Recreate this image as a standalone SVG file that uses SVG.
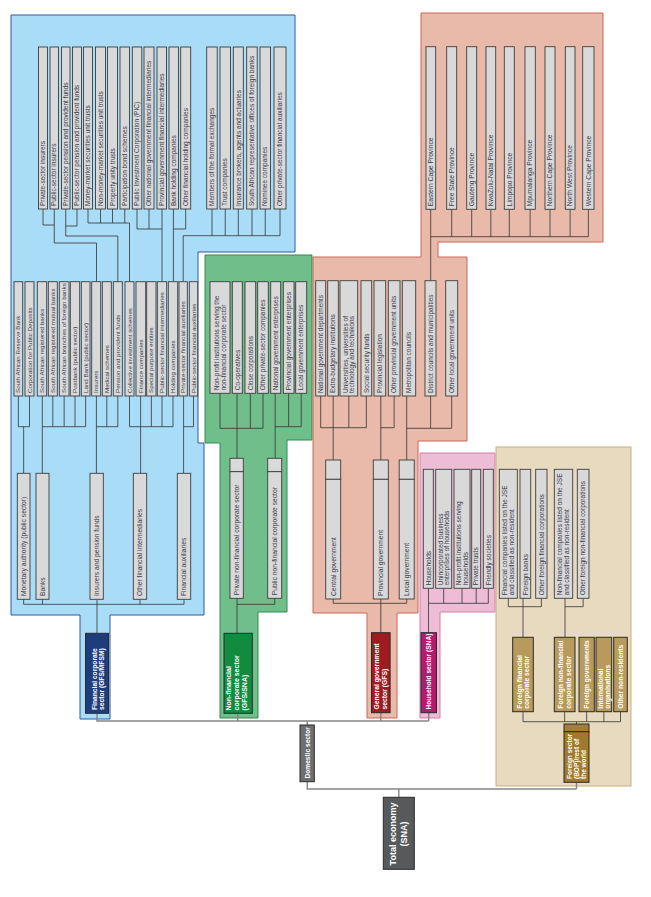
<svg xmlns="http://www.w3.org/2000/svg" width="651" height="897" viewBox="0 0 651 897">
<style>
.r1{fill:#a9dcf6;stroke:#34579a;stroke-width:1}
.r2{fill:#70be89;stroke:#2e8c52;stroke-width:1}
.r3{fill:#e9baa9;stroke:#c9665b;stroke-width:1}
.r4{fill:#edbdd6;stroke:#d77cab;stroke-width:1}
.r5{fill:#e7dabf;stroke:#c8b07c;stroke-width:1}
.lf{fill:#d9d9da;stroke:#3d3d3d;stroke-width:0.9}
.t{font-family:"Liberation Sans",Arial,sans-serif;font-size:6.5px;fill:#3b3b4a}
.s{font-size:6.2px}
.m{font-size:6.7px}
.w{font-family:"Liberation Sans",Arial,sans-serif;font-weight:bold;fill:#ffffff;font-size:6.7px}
.c{fill:none;stroke:#333;stroke-width:0.8}
.g{fill:none;stroke:#858585;stroke-width:1.4}
.dk{stroke:#2a2a2a;stroke-width:1}
</style>
<rect width="651" height="897" fill="#ffffff"/>
<g id="regions">
<path class="r1" d="M11,15H295V252H198V443H204V615H110V719H80V615H11Z"/>
<path class="r2" d="M205,255H312V440H287V612H258V718H220V443H205Z"/>
<path class="r3" d="M421,13H603V242H438V257H467V441H418V613H397V718H367V613H313V257H421Z"/>
<path class="r4" d="M420,453H495V612H440V718H420Z"/>
<rect class="r5" x="496" y="447" width="135" height="339"/>
</g>
<g id="connectors">
<path class="c" d="M43,209V225H54.25M54.25,209V243H96.5V281.7M77,209V226H65.75M65.75,209V236H117.8V281.7M88,209V223H129.5V281.7M100.5,209V223M112.5,209V223M124.75,209V223M137,209V229H162M149,209V229M162,209V281.7M173.4,209V281.7M185.7,209V229H173.4M183.2,235.7V281.7M183.2,235.7H280M212,209V235.7M225.25,209V235.7M238.3,209V235.7M252,209V235.7M265.25,209V235.7M280,209V235.7"/>
<path class="c" d="M18.35,396V426.7H29.5V396M23.65,426.7V473.3M42.3,396V473.3M42.3,426.7H85.65M52.8,396V426.7M64.15,396V426.7M75,396V426.7M85.65,396V426.7M96.4,396V473.3M96.4,426.7H117.8M106.8,396V426.7M117.8,396V426.7M129.5,396V426.7H173M140.6,396V473.3M151.35,396V426.7M162,396V426.7M173,396V426.7M183.6,396V473.3M183.6,426.7H193.5V396"/>
<path class="c" d="M23.65,599.3V604.3H184V599.3M42.5,599.3V604.3M97,599.3V633.3M140,599.3V604.3"/>
<path class="c" d="M220,393.3V428.3H263M237,393.3V458.3M250.35,393.3V428.3M263,393.3V428.3M275.2,393.3V458.3M275.2,426.7H301.2M288.65,393.3V426.7M301.2,393.3V426.7M237,598.3V633.3M237,604.3H274.7V598.3"/>
<path class="c" d="M430.7,209.3V280.7M430.7,236.7H588.35M451.7,209.3V236.7M471.7,209.3V236.7M490.85,209.3V236.7M509.3,209.3V236.7M530.15,209.3V236.7M550,209.3V236.7M570.15,209.3V236.7M588.35,209.3V236.7"/>
<path class="c" d="M320.7,396V427.7H366.35M333.2,396V460M348.85,396V427.7M366.35,396V427.7M380.8,396V460M380.8,427.7H394.15V396M406.7,396V460M406.7,428.3H451.7M430.6,396V428.3M451.7,396V428.3M333.2,599V603.3H406.7V599M380.8,599V632.7"/>
<path class="c" d="M428.5,588.3V632.7M428.5,603.3H488.3M443.7,588.3V603.3M462,588.3V603.3M476.2,588.3V603.3M488.3,588.3V603.3"/>
<path class="c" d="M508.3,598.3V606.7H541.35V598.3M523,598.3V637.3M565,598.3V637.3M565,606.7H583.15V598.3M523,711.7V721.7H620.5V711.7M564.65,711.7V721.7M586.65,711.7V721.7M603.85,711.7V721.7M576.5,721.7V724"/>
<path class="g" d="M97,713.3V721H428.7M237.7,713.3V721M380.8,712.7V721M428.7,712.7V721M307.3,721V725M307.3,781.7V789H576.5M576.5,782.3V789M398.8,789V797.3"/>
</g>
<g id="fin-leaves">
<g id="b1"><rect class="lf" x="38.5" y="47" width="9" height="162"/><text class="t" transform="translate(45.2,206) rotate(-90)">Private-sector insurers</text></g>
<g id="b2"><rect class="lf" x="50" y="47" width="8.5" height="162"/><text class="t" transform="translate(56.4,206) rotate(-90)">Public-sector insurers</text></g>
<g id="b3"><rect class="lf" x="61.5" y="47" width="8.5" height="162"/><text class="t" transform="translate(67.9,206) rotate(-90)">Private-sector pension and provident funds</text></g>
<g id="b4"><rect class="lf" x="72.5" y="47" width="9" height="162"/><text class="t" transform="translate(79.2,206) rotate(-90)">Public-sector pension and provident funds</text></g>
<g id="b5"><rect class="lf" x="83.5" y="47" width="9" height="162"/><text class="t" transform="translate(90.2,206) rotate(-90)">Money-market securities unit trusts</text></g>
<g id="b6"><rect class="lf" x="95.5" y="47" width="10" height="162"/><text class="t" transform="translate(102.7,206) rotate(-90)">Non-money-market securities unit trusts</text></g>
<g id="b7"><rect class="lf" x="107.5" y="47" width="10" height="162"/><text class="t" transform="translate(114.7,206) rotate(-90)">Property unity trusts</text></g>
<g id="b8"><rect class="lf" x="120" y="47" width="9.5" height="162"/><text class="t" transform="translate(126.9,206) rotate(-90)">Participation bond schemes</text></g>
<g id="b9"><rect class="lf" x="132.3" y="47" width="9.5" height="162"/><text class="t" transform="translate(139.2,206) rotate(-90)">Public Investment Corporation (PIC)</text></g>
<g id="b10"><rect class="lf" x="144" y="47" width="10" height="162"/><text class="t" transform="translate(151.2,206) rotate(-90)">Other national government financial intermediaries</text></g>
<g id="b11"><rect class="lf" x="157" y="47" width="9.5" height="162"/><text class="t" transform="translate(163.9,206) rotate(-90)">Provincial government financial intermediaries</text></g>
<g id="b12"><rect class="lf" x="169" y="47" width="9.5" height="162"/><text class="t" transform="translate(175.9,206) rotate(-90)">Bank holding companies</text></g>
<g id="b13"><rect class="lf" x="180.7" y="47" width="10" height="162"/><text class="t" transform="translate(187.9,206) rotate(-90)">Other financial holding companies</text></g>
<g id="b14"><rect class="lf" x="206.7" y="47" width="10.5" height="162"/><text class="t" transform="translate(214.1,206) rotate(-90)">Members of the formal exchanges</text></g>
<g id="b15"><rect class="lf" x="220" y="47" width="10.5" height="162"/><text class="t" transform="translate(227.4,206) rotate(-90)">Trust companies</text></g>
<g id="b16"><rect class="lf" x="233.3" y="47" width="10" height="162"/><text class="t" transform="translate(240.5,206) rotate(-90)">Insurance brokers, agents and actuaries</text></g>
<g id="b17"><rect class="lf" x="246.7" y="47" width="10.5" height="162"/><text class="t" transform="translate(254.1,206) rotate(-90)">South African representative offices of foreign banks</text></g>
<g id="b18"><rect class="lf" x="260" y="47" width="10.5" height="162"/><text class="t" transform="translate(267.4,206) rotate(-90)">Nominee companies</text></g>
<g id="b19"><rect class="lf" x="274" y="47" width="12" height="162"/><text class="t" transform="translate(282.2,206) rotate(-90)">Other private-sector financial auxiliaries</text></g>
</g>
<g id="fin-mid">
<g id="m1"><rect class="lf" x="14" y="281.7" width="8.7" height="114.3"/><text class="t s" transform="translate(20.4,393) rotate(-90)">South African Reserve Bank</text></g>
<g id="m2"><rect class="lf" x="25" y="281.7" width="9" height="114.3"/><text class="t s" transform="translate(31.6,393) rotate(-90)">Corporation for Public Deposits</text></g>
<g id="m3"><rect class="lf" x="37.3" y="281.7" width="9.4" height="114.3"/><text class="t s" transform="translate(44.1,393) rotate(-90)">South African registered banks</text></g>
<g id="m4"><rect class="lf" x="48.3" y="281.7" width="9" height="114.3"/><text class="t s" transform="translate(54.9,393) rotate(-90)">South African registered mutual banks</text></g>
<g id="m5"><rect class="lf" x="59.3" y="281.7" width="9.7" height="114.3"/><text class="t s" transform="translate(66.2,393) rotate(-90)">South African branches of foreign banks</text></g>
<g id="m6"><rect class="lf" x="70.3" y="281.7" width="9.4" height="114.3"/><text class="t s" transform="translate(77.1,393) rotate(-90)">Postbank (public sector)</text></g>
<g id="m7"><rect class="lf" x="81.3" y="281.7" width="8.7" height="114.3"/><text class="t s" transform="translate(87.7,393) rotate(-90)">Land Bank (public sector)</text></g>
<g id="m8"><rect class="lf" x="91.7" y="281.7" width="9" height="114.3"/><text class="t s" transform="translate(98.3,393) rotate(-90)">Insurers</text></g>
<g id="m9"><rect class="lf" x="102.3" y="281.7" width="9" height="114.3"/><text class="t s" transform="translate(108.9,393) rotate(-90)">Medical schemes</text></g>
<g id="m10"><rect class="lf" x="113.3" y="281.7" width="9" height="114.3"/><text class="t s" transform="translate(119.9,393) rotate(-90)">Pension and provident funds</text></g>
<g id="m11"><rect class="lf" x="125" y="281.7" width="9" height="114.3"/><text class="t s" transform="translate(131.6,393) rotate(-90)">Collective investment schemes</text></g>
<g id="m12"><rect class="lf" x="136" y="281.7" width="9.7" height="114.3"/><text class="t s" transform="translate(142.9,393) rotate(-90)">Finance companies</text></g>
<g id="m13"><rect class="lf" x="146.7" y="281.7" width="9.3" height="114.3"/><text class="t s" transform="translate(153.4,393) rotate(-90)">Special purpose entities</text></g>
<g id="m14"><rect class="lf" x="157.3" y="281.7" width="9.4" height="114.3"/><text class="t s" transform="translate(164.1,393) rotate(-90)">Public-sector financial intermediaries</text></g>
<g id="m15"><rect class="lf" x="168.3" y="281.7" width="9.4" height="114.3"/><text class="t s" transform="translate(175.1,393) rotate(-90)">Holding companies</text></g>
<g id="m16"><rect class="lf" x="179" y="281.7" width="8.3" height="114.3"/><text class="t s" transform="translate(185.2,393) rotate(-90)">Private-sector financial auxiliaries</text></g>
<g id="m17"><rect class="lf" x="189.3" y="281.7" width="8.4" height="114.3"/><text class="t s" transform="translate(195.6,393) rotate(-90)">Public-sector financial auxiliaries</text></g>
</g>
<g id="fin-sub">
<g id="f1"><rect class="lf" x="17.3" y="473.3" width="12.7" height="126"/><text class="t m" transform="translate(25.9,596) rotate(-90)">Monetary authority (public sector)</text></g>
<g id="f2"><rect class="lf" x="36" y="473.3" width="13" height="126"/><text class="t m" transform="translate(44.8,596) rotate(-90)">Banks</text></g>
<g id="f3"><rect class="lf" x="90" y="473.3" width="13.3" height="126"/><text class="t m" transform="translate(98.9,596) rotate(-90)">Insurers and pension funds</text></g>
<g id="f4"><rect class="lf" x="133.3" y="473.3" width="13.4" height="126"/><text class="t m" transform="translate(142.3,596) rotate(-90)">Other financial intermediaries</text></g>
<g id="f5"><rect class="lf" x="177.3" y="473.3" width="13.4" height="126"/><text class="t m" transform="translate(186.3,596) rotate(-90)">Financial auxiliaries</text></g>
</g>
<g id="fin-sector"><rect x="85.5" y="633.3" width="23" height="80" fill="#1f3d7c" class="dk"/><text class="w" transform="translate(96.5,710) rotate(-90)">Financial corporate<tspan x="0" dy="7">sector (GFS/MFSM)</tspan></text></g>
<g id="nonfin-leaves">
<g id="g1"><rect class="lf" x="210" y="281.7" width="20" height="111.6"/><text class="t" transform="translate(218.9,390.3) rotate(-90)">Non-profit institutions serving the<tspan x="0" dy="6.8">non-financial corporate sector</tspan></text></g>
<g id="g2"><rect class="lf" x="232.3" y="281.7" width="10" height="111.6"/><text class="t" transform="translate(239.5,390.3) rotate(-90)">Co-operatives</text></g>
<g id="g3"><rect class="lf" x="245" y="281.7" width="10.7" height="111.6"/><text class="t" transform="translate(252.5,390.3) rotate(-90)">Close corporations</text></g>
<g id="g4"><rect class="lf" x="257.7" y="281.7" width="10.6" height="111.6"/><text class="t" transform="translate(265.2,390.3) rotate(-90)">Other private-sector companies</text></g>
<g id="g5"><rect class="lf" x="270.7" y="281.7" width="10" height="111.6"/><text class="t" transform="translate(277.9,390.3) rotate(-90)">National government enterprises</text></g>
<g id="g6"><rect class="lf" x="283.3" y="281.7" width="10.7" height="111.6"/><text class="t" transform="translate(290.8,390.3) rotate(-90)">Provincial government enterprises</text></g>
<g id="g7"><rect class="lf" x="295.7" y="281.7" width="11" height="111.6"/><text class="t" transform="translate(303.4,390.3) rotate(-90)">Local government enterprises</text></g>
</g>
<g id="nonfin-sub">
<g id="gm1"><rect class="lf" x="230" y="458.3" width="13.3" height="13.4"/><rect class="lf" x="230" y="471.7" width="13.3" height="126.6"/><text class="t m" transform="translate(239,595.3) rotate(-90)">Private non-financial corporate sector</text></g>
<g id="gm2"><rect class="lf" x="267.7" y="458.3" width="14" height="13.4"/><rect class="lf" x="267.7" y="471.7" width="14" height="126.6"/><text class="t m" transform="translate(277,595.3) rotate(-90)">Public non-financial corporate sector</text></g>
</g>
<g id="nonfin-sector"><rect x="224" y="633.3" width="28.3" height="80" fill="#118b3f" class="dk"/><text class="w" style="font-size:7px" transform="translate(231,710.5) rotate(-90)">Non-financial<tspan x="0" dy="8">corporate sector</tspan><tspan x="0" dy="8">(GFS/SNA)</tspan></text></g>
<g id="prov-leaves">
<g id="o1"><rect class="lf" x="426" y="46.7" width="9.7" height="162.6"/><text class="t m" transform="translate(433,206.3) rotate(-90)">Eastern Cape Province</text></g>
<g id="o2"><rect class="lf" x="446.7" y="46.7" width="10" height="162.6"/><text class="t m" transform="translate(453.9,206.3) rotate(-90)">Free State Province</text></g>
<g id="o3"><rect class="lf" x="466.7" y="46.7" width="10" height="162.6"/><text class="t m" transform="translate(473.9,206.3) rotate(-90)">Gauteng Province</text></g>
<g id="o4"><rect class="lf" x="486" y="46.7" width="9.7" height="162.6"/><text class="t m" transform="translate(493,206.3) rotate(-90)">KwaZulu-Natal Province</text></g>
<g id="o5"><rect class="lf" x="504.3" y="46.7" width="10" height="162.6"/><text class="t m" transform="translate(511.5,206.3) rotate(-90)">Limpopo Province</text></g>
<g id="o6"><rect class="lf" x="525" y="46.7" width="10.3" height="162.6"/><text class="t m" transform="translate(532.3,206.3) rotate(-90)">Mpumalanga Province</text></g>
<g id="o7"><rect class="lf" x="545" y="46.7" width="10" height="162.6"/><text class="t m" transform="translate(552.2,206.3) rotate(-90)">Northern Cape Province</text></g>
<g id="o8"><rect class="lf" x="565.3" y="46.7" width="9.7" height="162.6"/><text class="t m" transform="translate(572.3,206.3) rotate(-90)">North West Province</text></g>
<g id="o9"><rect class="lf" x="582.7" y="46.7" width="11.3" height="162.6"/><text class="t m" transform="translate(590.5,206.3) rotate(-90)">Western Cape Province</text></g>
</g>
<g id="gov-leaves">
<g id="om1"><rect class="lf" x="315.7" y="280.7" width="10" height="115.3"/><text class="t" transform="translate(322.9,393) rotate(-90)">National government departments</text></g>
<g id="om2"><rect class="lf" x="327.7" y="280.7" width="10.6" height="115.3"/><text class="t" transform="translate(335.2,393) rotate(-90)">Extra-budgetary institutions</text></g>
<g id="om3"><rect class="lf" x="340" y="280.7" width="17.7" height="115.3"/><text class="t" transform="translate(347.7,393) rotate(-90)">Universities, universities of<tspan x="0" dy="6.8">technology and technikons</tspan></text></g>
<g id="om4"><rect class="lf" x="361" y="280.7" width="10.7" height="115.3"/><text class="t" transform="translate(368.5,393) rotate(-90)">Social security funds</text></g>
<g id="om5"><rect class="lf" x="374" y="280.7" width="11.7" height="115.3"/><text class="t" transform="translate(382,393) rotate(-90)">Provincial legislation</text></g>
<g id="om6"><rect class="lf" x="388.3" y="280.7" width="11.7" height="115.3"/><text class="t" transform="translate(396.3,393) rotate(-90)">Other provincial government units</text></g>
<g id="om7"><rect class="lf" x="402.3" y="280.7" width="13.4" height="115.3"/><text class="t" transform="translate(411.2,393) rotate(-90)">Metropolitan councils</text></g>
<g id="om8"><rect class="lf" x="425" y="280.7" width="11" height="115.3"/><text class="t" transform="translate(432.7,393) rotate(-90)">District councils and municipalities</text></g>
<g id="om9"><rect class="lf" x="445.7" y="280.7" width="12" height="115.3"/><text class="t" transform="translate(453.9,393) rotate(-90)">Other local government units</text></g>
</g>
<g id="gov-sub">
<g id="oc1"><rect class="lf" x="325.7" y="460" width="15" height="19.3"/><rect class="lf" x="325.7" y="479.3" width="15" height="119.7"/><text class="t m" transform="translate(335.5,596) rotate(-90)">Central government</text></g>
<g id="oc2"><rect class="lf" x="373.3" y="460" width="15" height="19.3"/><rect class="lf" x="373.3" y="479.3" width="15" height="119.7"/><text class="t m" transform="translate(383.1,596) rotate(-90)">Provincial government</text></g>
<g id="oc3"><rect class="lf" x="399.2" y="460" width="15" height="19.3"/><rect class="lf" x="399.2" y="479.3" width="15" height="119.7"/><text class="t m" transform="translate(409,596) rotate(-90)">Local government</text></g>
</g>
<g id="gov-sector"><rect x="371.5" y="632.7" width="18.6" height="80" fill="#9d1c22" class="dk"/><text class="w" style="font-size:6.8px" transform="translate(379,709.5) rotate(-90)">General government<tspan x="0" dy="7.6">sector (GFS)</tspan></text></g>
<g id="hh-leaves">
<g id="p1"><rect class="lf" x="423.3" y="469.3" width="10" height="119"/><text class="t" transform="translate(430.5,585.3) rotate(-90)">Households</text></g>
<g id="p2"><rect class="lf" x="435.7" y="469.3" width="16" height="119"/><text class="t" transform="translate(442.6,585.3) rotate(-90)">Unincorporated business<tspan x="0" dy="6.8">enterprises of households</tspan></text></g>
<g id="p3"><rect class="lf" x="454" y="469.3" width="16" height="119"/><text class="t" transform="translate(460.9,585.3) rotate(-90)">Non-profit institutions serving<tspan x="0" dy="6.8">households</tspan></text></g>
<g id="p4"><rect class="lf" x="471.7" y="469.3" width="9" height="119"/><text class="t" transform="translate(478.4,585.3) rotate(-90)">Private trusts</text></g>
<g id="p5"><rect class="lf" x="483.3" y="469.3" width="10" height="119"/><text class="t" transform="translate(490.5,585.3) rotate(-90)">Friendly societies</text></g>
</g>
<g id="hh-sector"><rect x="421" y="632.7" width="15.5" height="80" fill="#b51a6f" class="dk"/><text class="w" style="font-size:6.6px" transform="translate(431,709.5) rotate(-90)">Household sector (SNA)</text></g>
<g id="row-leaves">
<g id="t1"><rect class="lf" x="499.3" y="469.3" width="18" height="129"/><text class="t" transform="translate(507.2,595.3) rotate(-90)">Financial companies listed on the JSE<tspan x="0" dy="6.8">and classified as non-resident</tspan></text></g>
<g id="t2"><rect class="lf" x="520" y="469.3" width="10.7" height="129"/><text class="t" transform="translate(527.5,595.3) rotate(-90)">Foreign banks</text></g>
<g id="t3"><rect class="lf" x="535.7" y="469.3" width="11.3" height="129"/><text class="t" transform="translate(543.5,595.3) rotate(-90)">Other foreign financial corporations</text></g>
<g id="t4"><rect class="lf" x="554.3" y="469.3" width="18.4" height="129"/><text class="t" transform="translate(562.4,595.3) rotate(-90)">Non-financial companies listed on the JSE<tspan x="0" dy="6.8">and classified as non-resident</tspan></text></g>
<g id="t5"><rect class="lf" x="577.3" y="469.3" width="11.7" height="129"/><text class="t" transform="translate(585.3,595.3) rotate(-90)">Other foreign non-financial corporations</text></g>
</g>
<g id="row-sub">
<g id="tm1"><rect x="512.7" y="637.3" width="20.6" height="74.4" fill="#b89a5d" class="dk"/><text class="w" transform="translate(521.8,708.7) rotate(-90)">Foreign financial<tspan x="0" dy="7.2">corporate sector</tspan></text></g>
<g id="tm2"><rect x="554.3" y="637.3" width="20.7" height="74.4" fill="#b89a5d" class="dk"/><text class="w" transform="translate(563.4,708.7) rotate(-90)">Foreign non-financial<tspan x="0" dy="7.2">corporate sector</tspan></text></g>
<g id="tm3"><rect x="579" y="637.3" width="15.3" height="74.4" fill="#b89a5d" class="dk"/><text class="w" transform="translate(589,708.7) rotate(-90)">Foreign governments</text></g>
<g id="tm4"><rect x="596" y="637.3" width="15.7" height="74.4" fill="#b89a5d" class="dk"/><text class="w" transform="translate(602.6,708.7) rotate(-90)">International<tspan x="0" dy="7.2">organisations</tspan></text></g>
<g id="tm5"><rect x="613.7" y="637.3" width="13.6" height="74.4" fill="#b89a5d" class="dk"/><text class="w" transform="translate(622.9,708.7) rotate(-90)">Other non-residents</text></g>
</g>
<g id="row-sector"><rect x="564" y="724" width="25" height="7.7" fill="#a47f2f" class="dk"/><rect x="564" y="731.7" width="25" height="50.6" fill="#a07a2c" class="dk"/><text class="w" style="font-size:6.5px" transform="translate(571.5,779) rotate(-90)">Foreign sector<tspan x="0" dy="7">(BOP)/rest of</tspan><tspan x="0" dy="7">the world</tspan></text></g>
<g id="domestic"><rect x="300" y="725" width="14.3" height="56.7" fill="#6d6e70" class="dk"/><text class="w" style="font-size:6.6px" transform="translate(309.6,778.5) rotate(-90)">Domestic sector</text></g>
<g id="total"><rect x="383.3" y="797.3" width="31" height="72" fill="#58595b" class="dk"/><text class="w" style="font-size:9px" text-anchor="middle" transform="translate(396,834) rotate(-90)">Total economy<tspan x="0" dy="11">(SNA)</tspan></text></g>
</svg>
